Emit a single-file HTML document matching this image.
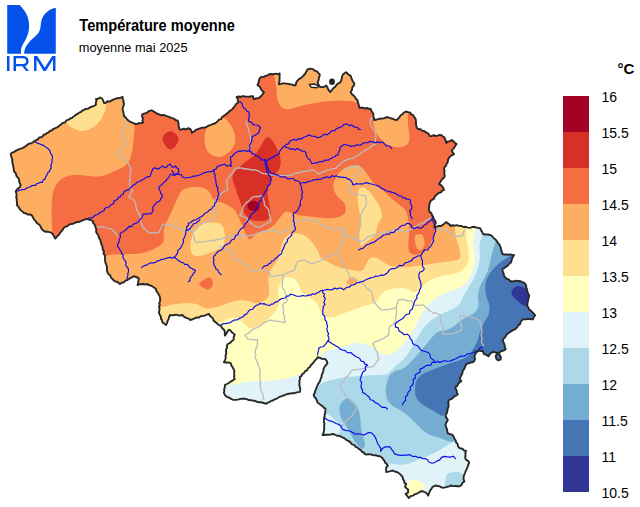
<!DOCTYPE html>
<html><head><meta charset="utf-8"><style>
html,body{margin:0;padding:0;background:#fff;width:640px;height:507px;overflow:hidden}
svg{display:block}
text{font-family:"Liberation Sans",sans-serif}
</style></head><body>
<svg width="640" height="507" viewBox="0 0 640 507">
<defs><clipPath id="bel"><polygon points="10.8,153.8 12.4,152.6 14.2,151.9 15.8,150.9 17.5,149.9 19.2,149.1 21.1,148.6 22.9,147.8 24.6,146.9 26.1,145.7 27.7,144.6 29.3,143.5 31.4,143.3 33,142.3 34.5,141 36.2,140.2 37.8,139.4 38.9,137.7 40.9,137.3 42.5,136.6 43.6,134.7 45.5,134.3 46.9,133.1 48.6,132.3 49.9,130.9 51.7,130.5 53,129.1 54.8,128.4 56.5,127.7 58.1,126.7 59.5,125.6 61,124.5 62.3,123.1 64.1,122.7 65.6,121.7 66.9,120.2 68.7,119.7 70.1,118.5 71.9,118 73.3,116.8 74.8,115.8 76.1,114.5 77.8,113.8 79.2,112.6 81,112 82.2,110.6 84,110 85.6,108.9 87.6,108.9 89.3,107.9 90.9,106.9 92.7,106.5 94.5,105.7 96,104.5 95.8,102.7 96.5,100.8 96,99 98.2,98.8 100,97.5 101.8,98.4 103,100 104,103 106,102.7 107.5,101.3 109.7,101.6 111.4,100.6 113.2,99.6 115,99 116.8,98.1 118.9,98.2 120.8,97.7 122.5,96.8 122.7,98.6 123.4,100.3 123.5,102.2 124,104 123.3,106.5 122.5,109 123.1,111.3 123.6,113.6 124,116 125.8,117.5 127.2,119.5 129,121 130.9,122.1 133.1,122.9 135,124 137,123.7 139.1,123.3 141.1,123 143.1,122.5 142.4,120.5 143,118.4 142.1,116.5 142.1,114.4 144,113.7 146,113.2 147.7,112.1 149.3,110.8 151.3,110.3 153,110.9 154.5,112.1 156.1,112.9 157.6,114 159.4,114.4 161.3,115.3 163.6,114.9 165.5,115.7 167.5,116.4 169.3,116.9 170.8,117.9 172.7,118.1 174.4,119 175.8,120.2 177.7,120.5 178.4,122.3 178.6,124.1 178.5,126.1 179.2,127.8 179.7,129.6 181.7,129.5 183.7,128.7 185.9,129.5 187.8,128.3 189.9,128.6 191.3,130.5 191.9,132.7 194.2,131.5 196,129.6 198.1,129.2 200,128.3 202,127.7 204.1,127.6 206,127.2 207.6,126.2 209.3,125.4 211.1,124.8 212.8,124 214.7,123.5 216.3,122.5 217.7,121.1 219,119.6 221.2,119.1 222.1,117.1 223.7,115.9 225.4,114.9 226.9,113.5 228.5,112.4 229.6,110.9 231.3,110.1 232.6,108.8 233.7,107.4 234.9,106 235.8,104.4 237.1,103.1 238.7,102.2 237.8,100.6 237.7,98.6 236.6,97.1 238.4,96.5 240.2,97 242,96.3 243.8,96.2 245.6,96.6 247.4,96.6 249.3,96.8 251,96.2 252.8,96.1 253.9,99.1 256.4,98.3 259,98.1 260.2,96.7 261.8,95.6 262.8,93.9 264,92.5 262.6,91.1 261.2,89.7 260.4,87.7 259.1,86.2 257.5,85 258.6,82.6 259,80 260,77.8 261.8,76.9 263.9,76.9 265.6,75.8 267.6,75.4 269.3,74.3 271.2,74 273.4,74.3 275.5,73.6 277.6,74.2 279.7,73.5 279.6,75.3 279.6,77.2 279.5,79 279.6,80.8 279.2,82.6 278.8,84.4 280.6,84.1 282.5,83.4 284.4,83.4 286.3,83.6 288.2,83.9 290,84.3 291.9,84.5 293.7,85.3 295.6,85.3 296.2,82.8 297.5,80.6 298.9,79.2 300.7,78.2 302.2,76.9 303.6,75.5 305,74 306.2,71.7 307.5,69.5 310.3,68.6 312.7,69.1 314.6,70.6 316.9,71.4 318.2,72.9 319.7,74.2 319.6,76.1 318.8,77.9 318.8,79.8 317.8,81.6 317.8,83.6 318.9,85.1 319.7,86.8 322,87.1 324.4,86.8 326.2,85.4 327.3,87.2 328.1,89.2 330,92 331.9,90.1 333.5,88 335.6,86.4 336.7,84.6 338.3,83.4 340.1,82.4 341.2,80.7 341.7,78.5 342.1,76.3 343.1,74.2 345.9,72.3 347.5,73.4 348.8,74.8 350.6,75.6 351.3,77.7 352,79.8 353.1,81.8 354.4,83.6 354,85.5 352.6,86.8 352.1,88.6 351.8,90.5 350.6,92 351.7,93.9 353.4,95.3 354.9,96.9 355.9,98.8 357.5,100.3 357.8,102.2 358.5,104 359,105.9 359.4,107.8 361.3,107.8 363.2,107.8 365,108.7 366.9,107.9 368.7,108.9 370.6,108.8 371.4,110.7 372.5,112.5 373.5,114.4 373.2,116.3 374.1,118.1 374,120 376,119.8 378,119.2 380,118.7 382,118.5 384.1,118.2 386,117.5 387,117 388.9,117.7 390.8,118.3 392.8,118.7 394.5,119.7 396.5,120.2 398,118.8 399.4,117.3 400.5,115.5 402.4,114.3 403.9,112.5 406,111.5 408,112.1 410,112.4 411,114.3 413.2,115.2 414.2,117.1 415.5,118.7 415.9,120.5 415.9,122.4 416,124.3 416.3,126.2 417,128 418.5,129.3 420.6,129.3 422.1,130.6 424,131 425.6,132.1 427.3,132.9 428.8,134.2 429.7,136 431.7,136.1 433.6,135.2 435.6,136 437.6,135.6 439.5,134.9 441.5,135.2 442.9,136.7 444.7,137.6 444.9,139.5 446.1,141.1 446.2,143 447.9,141.7 450,141.1 451.8,140 453.4,141.3 454.9,142.7 456.5,144 455.2,145.9 454,147.9 452.7,149.3 451.8,151 452.8,152.7 454,154.2 452.4,155.1 450.7,155.9 449.4,157.3 448.1,159.5 447.8,162 446.7,163.7 446,165.6 444.6,167.1 443.9,169 444.6,170.7 444.2,172.6 444.5,174.4 444.7,176.2 443.8,177.9 442.1,179.1 441.2,180.8 440.1,182.4 439,184 441.2,185.4 443,187.3 444,190 442.1,190.6 441,192.4 438.9,192.7 437.5,194 436,195.2 434.8,196.6 434.1,198.6 432.4,199.6 430.8,200.7 430,202.5 429.4,204.3 429.3,206.2 428.9,208.1 429,210 429.6,211.9 431.3,213.1 432,215 433.1,216.6 433.8,219.2 435.5,221.3 435.7,223.5 434.5,225.4 434.7,227.6 436.7,226.6 438.8,226 441,226 443,224.9 444.6,223.3 446.5,222.1 447.8,223.4 449.4,224.4 450.5,226 452.5,225.2 454.7,225.7 456.8,225.2 459.1,225.9 461.5,226 463.5,227 465.8,226.8 467.8,227.6 470,227.9 472,227.1 474.1,226.8 476.2,227.5 478.3,227.9 480.4,228.4 481,230.3 482.3,232 482.8,233.9 484.9,234.5 487.2,234.5 489.4,234.8 491.5,235.5 492.9,237.2 494.5,238.8 496.2,240.2 497.4,242.1 498.8,243.8 500,245.8 500.8,247.8 501.1,249.9 501.9,251.9 502.5,254 504.4,254.6 506.3,254.3 508.2,254.8 510.2,254.4 512.1,254.9 514,255 513,256.8 512,258.6 511.6,260.6 511,262.5 509.2,263.7 507.9,265.5 506.1,266.7 504.4,267.9 502.5,269 502.7,271.4 503.7,273.6 504,276 505.4,277.4 506.7,278.8 508.8,279.3 510,281 512,281.5 514,281.3 516,280.7 518,281.2 520,281 521.8,281.9 523.6,282.6 525.2,283.8 526.2,285.6 526.2,287.8 527.2,289.7 527.4,291.8 528.3,293.7 529.2,295.6 528.7,297.6 528.3,299.5 527.8,301.5 527.4,303.5 527.2,305.5 528.2,307.4 529.2,309.4 530.9,310.7 532.3,312.3 533.9,313.7 535.1,315.4 533.6,317.1 533.1,319.3 531.1,319.2 529.2,319 527.2,319 525.2,319.4 523.2,319.3 521.7,320.6 520.6,322.3 520,324.2 518.2,325.4 517.3,327.2 515.6,328.9 513.5,329.9 511.4,331.1 509.6,332.3 507.8,333.5 506.3,335 505.3,337.1 503.5,338.7 502.7,340.9 503.8,342.9 504.6,344.9 504.8,347.2 505.7,349.2 503.8,350.6 501.5,351 499.2,352.8 497,354 495.6,356.3 496.5,359 498,360.4 500.5,359.5 501,357.5 499.8,355.1 498,352.8 496,352.7 494.1,351.9 492.1,352.2 490.6,353.3 489.4,354.7 488.5,356.3 486.3,354.9 483.8,353.9 483.2,352.1 482.6,350.4 480.9,351 479,350.6 477.4,351.8 475.5,351.6 475.8,353.5 474.7,355.3 474.6,357.2 475,359.2 474.3,361 472.8,362.2 470.9,362.4 469.4,363.2 467.5,363.5 466,364.6 465.3,366.3 464.7,368 463.8,369.5 462.7,371 462.5,372.9 461.4,375.3 460.1,377.6 460.2,379.6 461.3,381.2 459.5,382.3 458.1,383.9 457.2,386 455.4,387.1 455.7,389 456.7,390.6 456.8,392.5 457.8,394.2 456.2,395.6 454.2,396.4 452.8,398.1 451,399.1 449,400 448.3,401.9 448.5,404 448.6,406.1 447.9,408 447.5,410 447,412.7 445.5,415 445.8,416.9 446.9,418.4 447.8,420 446.5,422.3 445.5,424.7 446,426.9 446.9,429 447.3,431.2 447.8,433.4 450.2,434.1 452.6,435 453.6,436.8 454.6,438.7 455.7,440.5 456.1,442.5 457.6,443.9 457.9,445.9 458.9,447.6 460.6,448.5 462.6,448.8 464,450.5 466,450.8 465.4,453.1 465.5,455.5 465.2,457.9 466.1,459.8 468.1,460.8 469.1,462.6 468.4,464.7 467.6,466.8 466.8,468.9 465.8,470.8 465.1,472.8 464.2,474.7 463.6,476.8 463.6,479.2 464.4,481.5 462.6,482.8 461.5,484.9 459.7,486.2 457.5,486.3 455.3,486 453.1,486.1 451,485.5 449.1,486.3 447.1,486.9 445.1,487.4 443.1,487.8 441.3,487.4 439.7,486.3 437.8,486.1 436,485.5 434.2,486.1 432.5,486.9 431.5,488.9 430,490.6 429.1,493.1 428.1,495.6 427.1,493.9 425.6,492.5 423.5,491.5 421.2,491.2 418.8,492.5 417,493.7 414.8,494.3 413.1,495.6 410.6,496.2 408.8,498.1 407.5,496.2 405.6,493.8 408.1,492.5 408.1,489.4 406.5,488.2 405,486.9 406.2,483.8 404.4,483.1 404.2,480.9 403,479 402.5,476.9 400.8,474.9 398.8,473.1 396.8,472 394.6,471.5 392.6,470.5 390.5,471.1 388.4,471.6 386.3,472 386.1,469.6 386.3,467.3 387.9,465.7 386.8,464.1 385.2,462.8 384.5,460.9 383.2,459.4 381.9,457.5 380,456.3 377.5,456 375.8,455.2 373.9,455.4 372.2,454.8 370.4,454.4 368.6,454.1 366.7,454.6 365,454 363.6,452.5 361.7,451.7 360.8,449.8 358.8,449 357.5,447.5 355.7,446.9 354.7,445.2 352.9,444.7 351.3,443.7 350.3,442.1 348.8,441.1 347.1,440.3 345.6,439.4 344.3,438.1 342.5,437.5 340.6,436.4 338.6,435.9 336.5,435.5 334.6,434.5 332.5,434 330.5,434.6 328.5,434.7 326.5,434.8 324.5,435 322.5,435 323.7,432.6 324,430 324.3,428 324,426 324.5,424 323.8,422 324,420 324.1,418.1 324.6,416.2 324.7,414.3 325.3,412.4 325.3,410.5 325.5,408.6 323.7,407.7 322.5,406 320.7,405.1 319.3,403.7 317.6,402.7 316.9,400.6 316,398.5 314.4,396.9 313.6,394.8 314.8,393 315.2,390.9 316.1,388.9 316.8,387 317.6,385 318.7,383.1 320,381.3 320.5,379.1 321.5,377.1 321.7,375.1 322.5,373.1 323.3,371.3 323.5,369.2 324.4,367 325.9,365.1 327.4,363.3 326.8,361.1 325.5,359.3 323.5,358.9 321.5,358.7 319.6,357.7 317.6,357.3 316.7,358.9 315.3,360.1 314.2,361.5 313.1,363 311.8,364.2 310.7,365.6 309.7,367.2 307.9,368.3 307.1,370.3 305.1,371.1 304.1,372.9 302.4,374 301.5,375.9 299.8,377.1 300.1,378.9 299.3,380.8 299.6,382.6 299.3,384.5 299.7,386.3 300.1,388.2 300.3,390 299.8,391.9 297.8,392.1 295.9,392.6 294,393.3 291.9,393.2 290,393.7 288,393.8 286.2,394.4 284.6,395.2 282.8,395.6 281.1,396.3 279.3,396.9 277.8,398 276.1,398.8 274.4,399.4 272.9,400.5 271,400.9 269.6,402.1 267.8,402.6 266.3,403.7 264.3,403.3 262.4,402.5 260.3,402.2 258.2,402.2 256.3,401.5 254.4,400.7 252.4,400.5 250.4,400.1 248.4,400 246.6,399.1 244.6,398.8 242.6,398.6 240.6,398.9 238.7,399.4 236.7,399.8 234.7,399.9 232.8,399.8 230.8,398.6 228.9,397.5 226.8,396.8 225,395.1 223.9,392.8 224.3,390.9 224.2,388.9 224.9,387 224.9,385 226.9,384 228.8,383 230.7,381.6 232.8,380.4 234.7,379 234.1,377.1 234.3,375.1 234.2,373.1 234.4,371.1 233.7,369.2 232.6,367.3 231.4,365.5 230.8,363.3 228.6,362.4 226.2,362.5 223.9,362.3 225.2,359.9 225.8,357.3 225.5,355.3 226.3,353.4 226,351.4 226.1,349.4 227.2,347.5 226.8,345.5 227.9,344 229.6,343.2 231,342 232.3,340.8 233.7,339.6 233.7,337 234.7,334.7 233.3,333.3 231.7,332.3 230.6,330.5 228.8,329.7 227.4,331.6 226.3,333.7 224.9,335.6 224.8,333.6 224.8,331.6 223.9,329.7 222.1,328 220.9,325.8 218.6,324.9 216.8,323.3 215,321.8 213.5,320.5 213,318.4 211.5,317.1 209.9,315.8 209,314 206.8,314.6 204.7,315.6 202.5,316 200.6,316.1 199.1,317.6 197,317.4 195.3,318 193.6,318.8 191.8,319.5 190,320 188.8,318.6 187,318.1 185.2,317.4 183.7,316.4 182.5,315 180.4,315.5 178.3,315.4 176.2,314.7 174.2,315 172.1,315.4 170,315 169.1,317 168.6,319.1 167.6,321 167,323.1 166,325 164.4,323.6 162.5,322.5 162.1,320.4 160.9,318.6 160.9,316.3 159.6,314.6 159,312.5 159.3,310.6 159.6,308.8 158.9,306.8 159.8,305 159.2,303.1 160.1,301.3 160.2,299.4 160,297.5 159.4,295.7 158.4,294.1 157.5,292.4 156.3,290.9 156,289 154.4,287.8 152.8,286.7 151.1,285.6 149,285.3 147.5,284 145.5,284.7 143.5,284 141.5,284.2 139.5,284.3 137.5,285 138.2,283.1 138.3,281 139,279 137.6,277.5 135.6,277 134,276 132.5,277.2 130.7,277.9 129,278.8 127.5,280 125.4,280.6 123.9,282.3 121.7,282.7 120,284 118.6,282.9 117.1,281.9 115.3,281.3 113.7,280.4 112.5,279 110.9,277.6 110.4,275.5 108.6,274.2 107.5,272.5 107,270.6 106.8,268.8 107,266.8 106.3,265 105.6,263.2 105.2,261.3 105,259.4 105,257.5 104.9,255.4 103.5,253.6 104,251.4 102.8,249.6 102.5,247.5 102.2,245.6 101.2,243.9 100.8,242 100.4,240.1 99.3,238.4 98.6,236.6 98.2,234.8 96.8,233.3 96.1,231.6 96.3,229.5 95.7,227.8 95.2,226 94.4,224.3 93.1,222.8 92.7,221 90.8,220 88.8,219.5 86.8,218.9 84.8,219.5 82.9,220.4 81,221.1 79.1,222 76.9,222 75,222.8 73,223.7 70.8,224 68.9,224.9 67.2,226.4 65,226.8 63.6,228.2 62.6,229.9 61.4,231.4 60,232.9 59.2,234.7 57.6,235.8 56.5,237.3 55.2,238.6 54.1,236.5 53,234.4 51.3,232.7 49.3,232.2 47.4,231.6 45.3,231.7 43.4,230.7 41.7,229 40.7,226.8 39.4,224.8 37.8,223.8 36.5,222.5 35.5,220.9 33.8,219.2 32.8,217 31.6,215 29.6,214.5 27.5,214.5 25.8,213.2 23.7,213 22.5,211.5 21,210.4 19.7,209 18.5,206.8 16.8,205 17.1,203 16.7,201.1 16.8,199.1 16.2,197.2 16.6,195.2 16.3,193.2 15.8,191.3 16.8,189.7 18.2,188.3 19.8,187.2 20.7,185.4 19.8,183.2 19.1,180.9 18.7,178.5 17.4,177.1 16.3,175.6 16,173.6 14.7,172.2 13.8,170.6 13.8,168.7 13.2,166.9 13.2,164.9 12.4,163.1 12.3,161.2 12.2,159.3 11.6,157.5 11,155.7 10.8,153.8"/></clipPath></defs>
<g clip-path="url(#bel)">
<rect x="0" y="0" width="640" height="507" fill="#FDAE61"/>
<path fill="#F46D43" d="M132.5,107.0Q135,124 134.5,129.5Q134,135 133.2,143.8Q132.5,152.5 130.0,158.8Q127.5,165 122.5,167.5Q117.5,170 108.8,173.8Q100,177.5 93.4,176.5Q86.8,175.5 78.9,175.0Q71,174.5 65.1,176.9Q59.2,179.4 55.8,185.4Q52.3,191.3 51.8,201.2Q51.3,211 51.8,221.8Q52.3,232.7 53.1,241.3Q54,250 77.0,256.0Q100,262 102.5,258.5Q105,255 112.5,254.5Q120,254 130.0,254.0Q140,254 146.2,252.0Q152.5,250 158.8,246.2Q165,242.5 163.8,236.2Q162.5,230 167.5,220.0Q172.5,210 176.2,201.0Q180,192 182.5,190.0Q185,188 192.5,187.0Q200,186 205.0,188.5Q210,191 211.2,195.5Q212.5,200 217.5,201.2Q222.5,202.5 227.5,205.0Q232.5,207.5 234.8,210.4Q237,213.4 238.7,217.2Q240.3,221 242.5,226.0Q244.7,231 245.8,234.5Q247,238 249.0,239.0Q251,240 252.0,238.0Q253,236 256.5,234.2Q260,232.5 266.2,230.0Q272.5,227.5 276.2,222.5Q280,217.5 283.0,213.8Q286,210 290.5,212.5Q295,215 305.0,216.0Q315,217 323.8,218.0Q332.5,219 338.2,217.0Q344,215 345.0,213.0Q346,211 345.5,206.8Q345,202.5 340.5,199.2Q336,196 334.2,191.0Q332.5,186 334.2,181.0Q336,176 339.2,172.4Q342.5,168.75 348.1,166.6Q353.75,164.4 357.4,165.2Q361,166 364.2,170.0Q367.5,174 370.0,178.2Q372.5,182.5 378.2,186.8Q384,191 387.0,194.2Q390,197.5 395.0,201.2Q400,205 403.8,208.5Q407.5,212 408.5,221.4Q409.5,230.8 408.7,238.7Q407.9,246.5 408.7,250.4Q409.5,254.4 415.0,254.8Q420.5,255.2 424.1,252.1Q427.6,248.9 430.8,243.0Q433.9,237.1 434.9,231.6Q436,226 448.0,213.0Q460,200 465.0,165.0Q470,130 450.0,110.0Q430,90 365.0,70.0Q300,50 217.5,65.0Q135,80 132.5,85.0Q130,90 132.5,107.0Z"/>
<path fill="#F46D43" d="M204.1,279.6Q210,275.7 211.9,279.2Q213.9,282.8 212.4,286.0Q210.8,289.1 208.8,289.5Q206.8,289.9 203.7,287.9Q200.5,286 199.3,284.8Q198.1,283.6 204.1,279.6Z"/>
<path fill="#FDAE61" d="M209.4,122.8Q212,119 217.1,117.5Q222.2,116 225.8,119.0Q229.3,122 231.7,126.7Q234,131.3 234.9,134.9Q235.8,138.4 234.9,142.6Q234,146.7 231.7,149.6Q229.3,152.6 225.2,154.9Q221,157.3 216.9,156.8Q212.75,156.2 209.8,153.8Q206.8,151.4 205.7,147.2Q204.5,143.1 204.5,139.0Q204.5,134.85 205.7,130.7Q206.8,126.6 209.4,122.8Z"/>
<path fill="#FDAE61" d="M274.0,68.5Q274,76.9 275.4,82.5Q276.9,88 276.9,94.6Q276.9,101.25 280.6,105.9Q284.4,110.6 290.9,108.8Q297.5,106.9 309.7,104.1Q321.9,101.25 335.9,100.8Q350,100.3 353.8,101.7Q357.5,103.1 361.2,101.5Q365,100 362.5,77.5Q360,55 317.0,57.5Q274,60 274.0,68.5Z"/>
<path fill="#FDAE61" d="M372.2,112.5Q372.5,120 373.8,126.2Q375,132.5 379.0,137.0Q383,141.5 386.2,143.9Q389.5,146.3 395.0,147.1Q400.5,147.9 404.4,146.3Q408.4,144.7 409.2,140.8Q410,136.8 408.8,130.5Q407.6,124.2 408.0,119.5Q408.4,114.7 406.7,107.3Q405,100 388.5,100.0Q372,100 372.0,102.5Q372,105 372.2,112.5Z"/>
<path fill="#FDAE61" d="M416.2,234.8Q418,234 420.2,233.9Q422.5,233.8 423.5,236.9Q424.5,240 424.6,243.0Q424.6,246 422.8,248.5Q421,251 419.2,250.2Q417.5,249.5 416.2,246.8Q415,244 414.8,239.8Q414.5,235.5 416.2,234.8Z"/>
<path fill="#D73027" d="M268.7,137.6Q271.4,138.7 274.6,144.1Q277.9,149.5 279.5,154.9Q281.2,160.4 280.6,164.7Q280.1,169 276.9,172.3Q273.6,175.6 271.4,178.8Q269.2,182 268.1,187.4Q267.1,192.9 268.1,198.3Q269.2,203.75 270.3,210.3Q271.4,216.8 268.1,218.9Q264.9,221.1 259.4,221.1Q254,221.1 249.7,218.9Q245.4,216.8 243.2,210.3Q241,203.75 238.3,196.2Q235.6,188.6 233.4,182.6Q231.3,176.6 234.0,172.8Q236.7,169 242.1,164.7Q247.5,160.4 251.8,157.2Q256.2,153.9 259.4,148.4Q262.7,143 264.4,139.8Q266,136.5 268.7,137.6Z"/>
<path fill="#D73027" d="M173.1,132.0Q175.7,133.7 177.2,135.8Q178.8,137.9 178.6,139.6Q178.4,141.3 177.1,143.7Q175.7,146.1 173.3,148.3Q170.9,150.6 168.4,148.7Q166,146.8 164.7,144.4Q163.3,142 162.6,140.3Q161.9,138.6 163.3,136.1Q164.7,133.7 167.6,132.0Q170.5,130.3 173.1,132.0Z"/>
<path fill="#A50026" d="M249.7,201.9Q252.4,200.3 255.1,200.9Q257.8,201.4 258.9,204.2Q260,206.9 258.9,209.1Q257.8,211.3 255.1,211.3Q252.4,211.3 250.2,210.2Q248,209 247.4,206.3Q246.9,203.6 249.7,201.9Z"/>
<path fill="#FEE090" d="M63.0,116.8Q66,123.5 70.5,126.8Q75,130 79.4,130.7Q83.75,131.3 88.8,129.4Q93.75,127.5 97.5,123.8Q101.25,120 103.1,115.6Q105,111.25 106.0,106.9Q106.9,102.5 107.0,96.2Q107,90 83.5,100.0Q60,110 63.0,116.8Z"/>
<path fill="#FEE090" d="M199.8,225.2Q203.7,222.9 210.0,222.5Q216.3,222.1 219.4,223.3Q222.6,224.5 223.8,228.4Q225,232.35 224.6,239.4Q224.2,246.5 221.0,248.1Q217.85,249.7 213.1,251.6Q208.4,253.6 202.9,255.2Q197.35,256.8 194.2,255.6Q191,254.4 190.6,248.9Q190.25,243.4 191.4,238.7Q192.6,234 194.2,230.8Q195.8,227.6 199.8,225.2Z"/>
<path fill="#FEE090" d="M365.8,188.5Q369,191 372.5,195.5Q376,200 378.5,204.5Q381,209 381.8,213.5Q382.5,218 379.6,221.5Q376.8,225 376.4,229.8Q376,234.5 374.0,236.1Q372,237.6 368.9,240.0Q365.7,242.4 363.4,244.7Q361,247 360.2,243.9Q359.4,240.8 359.4,237.7Q359.4,234.5 360.2,226.2Q361,218 359.2,210.2Q357.5,202.5 357.5,196.8Q357.5,191 360.0,188.5Q362.5,186 365.8,188.5Z"/>
<path fill="#FEE090" d="M150.0,410.0Q150,310 156.2,308.8Q162.5,307.5 167.5,305.8Q172.5,304 183.8,303.2Q195,302.5 200.0,305.8Q205,309 208.8,308.6Q212.5,308.1 218.1,306.6Q223.75,305 230.0,302.5Q236.25,300 242.5,300.3Q248.75,300.6 251.9,302.2Q255,303.75 258.1,303.1Q261.25,302.5 265.0,300.0Q268.75,297.5 269.1,293.8Q269.4,290 268.6,283.5Q267.8,277 269.9,272.0Q272,267 275.0,264.0Q278,261 279.5,254.2Q281,247.5 283.0,241.8Q285,236 290.0,234.2Q295,232.5 300.0,233.8Q305,235 308.8,238.8Q312.5,242.5 315.8,247.5Q319,252.5 319.5,255.3Q320,258.1 324.8,260.5Q329.5,262.9 334.2,265.2Q338.9,267.6 343.6,268.4Q348.4,269.2 355.5,270.8Q362.6,272.3 364.1,268.4Q365.7,264.4 368.1,260.4Q370.5,256.5 374.4,257.3Q378.4,258.1 382.3,261.2Q386.2,264.4 390.9,266.0Q395.7,267.6 401.9,267.3Q408,267 414.2,266.2Q420.5,265.5 429.9,263.9Q439.4,262.3 449.7,261.5Q460,260.7 460.4,256.8Q460.7,252.9 458.8,247.4Q456.8,241.8 455.6,234.7Q454.4,227.6 454.2,213.8Q454,200 507.0,200.0Q560,200 560.0,355.0Q560,510 355.0,510.0Q150,510 150.0,410.0Z"/>
<path fill="#FDAE61" d="M346.8,281.0Q348.4,278.6 351.5,277.1Q354.7,275.5 356.3,279.4Q357.9,283.4 354.7,284.5Q351.5,285.7 348.4,284.5Q345.2,283.4 346.8,281.0Z"/>
<path fill="#FFFFBF" d="M200.0,417.5Q200,325 210.6,323.8Q221.25,322.5 225.6,320.0Q230,317.5 234.4,318.1Q238.75,318.75 242.5,321.9Q246.25,325 247.5,326.9Q248.75,328.75 253.1,328.1Q257.5,327.5 262.5,323.8Q267.5,320 271.2,316.2Q275,312.5 277.5,307.5Q280,302.5 278.8,296.2Q277.5,290 278.8,286.9Q280,283.75 281.9,280.3Q283.75,276.9 288.4,277.4Q293.1,277.8 295.9,280.1Q298.75,282.5 299.7,287.2Q300.6,291.9 305.3,294.7Q310,297.5 312.8,299.4Q315.6,301.25 317.5,305.0Q319.4,308.75 321.3,312.5Q323.2,316.25 327.9,317.2Q332.6,318.1 336.3,316.2Q340,314.4 350.0,310.9Q360,307.4 364.8,305.8Q369.5,304.2 372.4,304.0Q375.2,303.9 379.1,297.6Q383.1,291.25 387.9,289.7Q392.6,288.1 400.5,288.1Q408.3,288.1 411.2,291.6Q414.2,295 420.5,288.1Q426.8,281.25 432.4,278.9Q437.9,276.5 448.1,274.9Q458.4,273.4 463.1,269.4Q467.8,265.5 468.6,259.9Q469.4,254.4 467.8,247.3Q466.2,240.2 466.2,234.7Q466.2,229.2 466.1,214.6Q466,200 513.0,200.0Q560,200 560.0,355.0Q560,510 380.0,510.0Q200,510 200.0,417.5Z"/>
<path fill="#E0F3F8" d="M200.0,448.0Q200,386 213.8,386.0Q227.5,386 237.5,383.5Q247.5,381 262.5,381.0Q277.5,381 288.2,378.0Q299,375 302.0,373.5Q305,372 309.5,369.0Q314,366 317.0,362.0Q320,358 321.8,354.7Q323.5,351.4 329.2,350.4Q335,349.4 342.5,346.7Q350,344 355.0,343.0Q360,342 366.3,344.4Q372.6,346.8 378.1,351.5Q383.7,356.25 389.2,354.7Q394.7,353.1 401.0,346.8Q407.3,340.5 411.2,333.4Q415.2,326.3 420.7,316.1Q426.2,305.8 432.8,300.4Q439.4,295 450.4,291.3Q461.5,287.6 465.4,283.6Q469.4,279.7 472.5,271.8Q475.7,263.9 474.9,257.6Q474.1,251.3 473.4,245.8Q472.6,240.2 474.1,235.5Q475.7,230.8 476.5,229.6Q477.3,228.4 477.1,214.2Q477,200 518.5,200.0Q560,200 560.0,355.0Q560,510 380.0,510.0Q200,510 200.0,448.0Z"/>
<path fill="#ABD9E9" d="M312.5,395.0Q315,390 318.5,386.2Q322,382.5 331.0,380.0Q340,377.5 356.2,376.2Q372.5,375 380.0,375.0Q387.5,375 389.5,372.5Q391.5,370 399.4,363.1Q407.3,356.25 411.2,348.4Q415.2,340.5 421.5,331.0Q427.8,321.5 436.5,316.8Q445.2,312.1 452.6,309.0Q460,305.8 461.6,300.4Q463.1,295 467.1,289.7Q471,284.4 474.1,278.1Q477.3,271.8 478.9,264.7Q480.4,257.6 479.6,251.3Q478.9,245 480.4,241.1Q482,237.1 482.4,235.5Q482.8,233.9 483.9,216.9Q485,200 522.5,200.0Q560,200 560.0,355.0Q560,510 435.0,510.0Q310,510 310.0,455.0Q310,400 312.5,395.0Z"/>
<path fill="#E0F3F8" d="M377.5,466.2Q385,462.5 393.5,464.1Q402,465.7 409.1,463.4Q416.3,461 421.8,458.6Q427.3,456.3 435.1,452.4Q443,448.4 448.6,444.4Q454.1,440.5 462.1,440.2Q470,440 475.0,475.0Q480,510 425.0,510.0Q370,510 370.0,490.0Q370,470 377.5,466.2Z"/>
<path fill="#E0F3F8" d="M321.5,412.5Q327,413 330.5,416.0Q334,419 337.5,422.5Q341,426 340.5,430.0Q340,434 335.0,435.5Q330,437 323.0,437.0Q316,437 316.0,424.5Q316,412 321.5,412.5Z"/>
<path fill="#FFFFBF" d="M409.1,481.2Q411.25,479.4 415.6,480.0Q420,480.6 422.8,483.1Q425.6,485.6 424.4,487.8Q423.1,490 420.9,490.6Q418.75,491.25 416.9,495.6Q415,500 407.5,500.0Q400,500 400.0,492.5Q400,485 403.4,484.1Q406.9,483.1 409.1,481.2Z"/>
<path fill="#ABD9E9" d="M445.4,479.9Q446.2,473.6 449.4,472.8Q452.6,472 457.3,472.0Q462,472 462.8,476.0Q463.6,480 466.8,485.0Q470,490 457.0,491.0Q444,492 444.4,489.1Q444.7,486.2 445.4,479.9Z"/>
<path fill="#74ADD1" d="M391.2,373.8Q395,370 398.8,370.0Q402.6,370 408.9,363.9Q415.2,357.8 422.3,349.1Q429.4,340.5 433.4,335.8Q437.3,331 442.8,330.6Q448.3,330.2 454.1,325.9Q460,321.5 462.5,319.5Q465,317.5 470.5,315.0Q476,312.5 477.5,308.8Q479,305 478.1,300.0Q477.3,295 478.9,289.7Q480.4,284.4 484.4,278.1Q488.3,271.8 489.9,263.1Q491.5,254.4 493.1,249.7Q494.6,245 495.4,242.6Q496.2,240.2 496.6,235.1Q497,230 528.5,230.0Q560,230 560.0,335.0Q560,440 517.5,440.0Q475,440 467.5,440.0Q460,440 455.0,441.2Q450,442.5 445.0,440.0Q440,437.5 433.8,436.2Q427.5,435 422.5,430.0Q417.5,425 411.2,418.8Q405,412.5 397.5,408.8Q390,405 387.5,400.0Q385,395 386.2,386.2Q387.5,377.5 391.2,373.8Z"/>
<path fill="#74ADD1" d="M342.5,401.2Q346,397.5 349.2,398.8Q352.5,400 356.2,405.0Q360,410 360.5,421.2Q361,432.5 363.5,438.8Q366,445 364.2,447.5Q362.5,450 358.8,446.2Q355,442.5 351.2,435.0Q347.5,427.5 343.8,422.5Q340,417.5 339.5,411.2Q339,405 342.5,401.2Z"/>
<path fill="#4575B4" d="M495.8,266.2Q491.5,270.2 488.4,275.7Q485.2,281.25 485.2,288.1Q485.2,295 487.6,300.0Q490,305 489.5,310.0Q489,315 486.5,318.8Q484,322.5 481.5,328.2Q479,334 478.2,338.2Q477.5,342.5 472.5,350.0Q467.5,357.5 463.8,358.8Q460,360 454.0,362.0Q448,364 441.0,366.5Q434,369 427.0,372.0Q420,375 417.5,378.8Q415,382.5 415.0,390.0Q415,397.5 418.8,401.2Q422.5,405 430.0,409.0Q437.5,413 440.0,415.0Q442.5,417 445.0,413.5Q447.5,410 458.8,415.0Q470,420 515.0,390.0Q560,360 560.0,305.0Q560,250 540.0,250.0Q520,250 510.0,256.1Q500,262.3 495.8,266.2Z"/>
<path fill="#313695" d="M513.0,289.0Q516,285 520.4,286.5Q524.8,288 532.4,290.0Q540,292 540.0,299.5Q540,307 532.4,307.0Q524.8,307 519.9,303.0Q515,299 512.5,296.0Q510,293 513.0,289.0Z"/>
<g fill="none" stroke="#bcbcbc" stroke-width="1.3" stroke-linejoin="round">
<polyline points="123.8,116.2 124.5,118.4 124.4,120.6 124.4,122.9 125,125 124.1,127.4 123.5,129.9 123.2,132.5 122.5,135 123.4,137.7 125,140 126.2,142.5 125.2,144.7 123.4,146.4 122.3,148.6 120,149.9 118.5,151.8 117.5,154 119.5,155.3 121.4,156.7 122.9,158.6 125.2,159.5 126.9,161.2 128.5,163.6 129.7,166.1 130.6,168.8 130.7,171.2 130.2,173.6 129.7,175.9 130.4,178.4 129.4,180.8 129.8,183.2 129.7,185.6 130.7,188.6 132.5,191.2 130.9,192.9 130.3,195.2 128.8,196.9 130.5,198.3 132.8,199 134.4,200.6 135.6,202.9 135.8,205.5 136.2,208 137.2,210.7 138.7,213.1 140,215.6 140.9,217.8 140.6,220.2 141,222.5 142.3,224.7 142.5,227 144.5,228.8 146.4,230.8 148.5,232.5 150.8,233.1 153.3,232.3 155.6,232.9 158,233 159.7,231 160.6,228.6 162,226.4 163,224 165.1,224.7 167.4,224.8 169.6,225 171.8,225.7 174,226 176.1,226.9 178.3,227.6 180.2,229 182.5,229.5 184.8,229.6 187.1,230.1 189.4,230.7 191.7,231.1 194,231 196,229.8 197.4,228 198.8,226 200.9,225 202.3,223.1 204.8,222.6 207.1,221.5 209.5,220.6 211.7,219.4 214.1,218.4 214.7,215.9 215.5,213.5 216,211 215.4,208.8 215.8,206.6 215.8,204.4 214.8,202.2 215,200 217.2,198.2 219.2,196.2 221,194 222.9,192.3 225.1,190.9 227.5,190 227.5,187.3 226.9,184.7 226.8,182.1 226.9,179.4 228.6,177.6 230.2,175.7 231.8,173.9 233.2,171.9 234.5,169.9 236.2,168.1 239.2,167.8 242.1,168.2 245,169 247.5,168.9 250,169.5 252.5,170 255,170 257.5,170.6 259.7,171.8 261.9,173.3 264.4,173.8 266.6,173.9 268.7,174.6 270.9,174.8 273.1,175.2 275.3,175.3 277.5,175.6 280,175.7 282.5,175.8 285,175.2 287.5,175.6 289.8,175.4 292.1,174.9 294.1,173.4 296.4,173 298.8,172.8 301.2,172 303.7,171.4 306.2,171 308.8,171.1 311.2,170 313.8,170 316,171.5 317.5,173.8 319.9,173.5 322,172.1 324.3,171.5 326.5,170.7 328.8,170 331.2,169.2 333.7,168.7 336.2,168.1 337.9,166 340.1,164.4 341.9,162.5 344,161.3 346.1,160.2 348.3,159.4 350.6,158.7 353,158.3 355,156.9 356.9,155.8 359.1,155 360.6,153.3 362.3,152 364.5,151.2 366.1,149.5 368.4,149.2 370,147.5 371.8,146.1 373.6,144.8 375.6,143.8 375.3,141.4 375.4,139.1 376.1,136.7 375.6,134.4 375.2,132 373.8,130 372.5,128 371.3,125.9 370.5,123.6 370,121.2 371,118.5 372.5,116"/>
<polyline points="96.9,226.9 99.3,227 101.6,226.6 104,227 106.5,228.1 109.2,228.7 111.9,228.8 113.3,230.6 114.5,232.6 116.4,234.2 117.5,236.25"/>
<polyline points="245.6,121.2 246.8,123.4 247,125.8 248.3,127.9 248.4,130.3 249.4,132.5 249.7,134.9 250.5,137.2 250.6,139.7 251.2,142 250.4,144.6 250.3,147.5 249,150"/>
<polyline points="343.8,170 346.5,169.3 348.7,167.5 351.2,166.2 353.8,166.5 356.2,166.5 358.8,166.2 360.3,168 361.7,169.8 362.5,172 359.9,173.1 357.7,174.8 355,175.6 354.2,178 352.7,180.1 351.8,182.5 351.2,185 350.4,187.1 349.2,189 347.5,190.6 350.2,191.6 352.3,193.5 355,194.4 357.3,194.2 359.6,194.8 361.8,195.1 364.1,195.5 366.2,196.3 366.2,199.2 366.6,202.1 366.2,205 365.2,207.1 363.7,208.9 362.6,210.9 361.8,213.1 360.6,215 360.3,217.2 360.5,219.5 360.2,221.8 360.9,224 360.6,226.2 359.8,228.5 358.6,230.6 357.3,232.6 356.7,235 356,237.2 355,239.4"/>
<polyline points="239.2,215.6 240.8,213.7 241.8,211.4 242.7,209.2 243.3,206.7 244.7,204.7 246.2,202.9 248.2,201.6 249.9,200 251.3,198.1 253.6,196.9 256.1,196.4 258.8,196.5 261.1,195.4 263.3,199.2 264.3,201.9 264.4,204.7 265.7,206.6 267.5,208.2 268.8,210.2 269.1,212.4 269.3,214.6 270,216.8 270.7,218.9 271,221.1 269.1,222.4 266.9,223.2 264.9,224.3 263,225.6 260.9,226.6 258.9,227.7 257,226.6 254.8,225.8 252.8,224.7 251.1,223.2 249.1,222.2 247.6,220.2 246.9,217.8 244.4,217 241.9,216 239.2,215.6"/>
<polyline points="193,232.5 193.1,235 194.3,237.2 194.4,239.6 195.3,241.9 197.7,242.4 200,241.7 202.3,242.2 204.7,241.9 207,241.3 209.3,240.7 211.7,240.5 214.1,240.6 216.3,239.5 218.8,239.5 221.1,239.1 223.4,238.2 225.7,237.4 228.1,237.2 230.5,236.8 232.8,236.4 235.2,236.1 237.7,236.3 240,235.5 242.5,236 245,235.2 247.5,236.2 250,235.6 252.3,235 254.7,234.6 256.9,233.7 259,232.7 261.2,231.9 263.5,231.2 265.8,231.6 268.1,231.4 270.3,230.5 272.5,230 275.2,230.5 277.4,232.2 280,232.8 282.6,231.8 285.2,230.7 287.5,229 289.7,227.8 291.6,226.2 293.3,224.3 295,222.5 297.2,221.6 299.5,221 301.8,220.3 304.1,219.8 306.2,218.8 308.6,219.4 310.8,220.1 313.3,220.2 315.6,220.6 317.9,222.1 320,223.9 322.5,225.1 325,226.2 327.2,227.7 329.6,228.3 332.2,228.6 334.4,230 336.9,229.3 339.3,228.5 341.9,228.1 343.4,230.5 344.8,232.9 345.6,235.6 348.1,236.1 350.3,237.5 352.5,238.8 355,239.4 357.4,240.4 359.9,241.2 362.5,241.2 364.9,239.7 366.8,237.4 369.5,236.2 371.6,235.3 373.8,234.5 376.2,234.8 378.2,233.5 380.5,233.1 382.9,232.8 385.2,232 387.6,231.6 390.1,231.4 392.4,230.7 394.7,230 397.3,229.8 399.7,230.8 402.3,230.7 404.7,231.8 407.3,231.5 409.1,230.1 411.1,228.9 413.5,228.4 415.2,226.8 417.2,225.6 419,224.1 421.5,223.7 423.6,222.7 425.3,221.1 427.2,219.7 429.4,218.9 432.6,217.3"/>
<polyline points="435.7,228.4 437.9,229 440.1,229.5 442.4,228.8 444.5,230.2 446.8,230 448.5,231.9 451,232.7 452.4,235 454.6,236.2 457.1,236.5 459.5,235.7 462,236 463.5,233.9 463.8,231.3 465,229"/>
<polyline points="218.8,246.6 221.2,246.9 223.4,247.8 225.6,248.9 228.1,248.9 229.3,250.9 230.9,252.6 232.5,254.4 234,256.2 235.1,258.3 236.8,260 238.9,260.9 241.2,261.5 242.9,263.1 244.8,264.3 246.9,265.3 248.1,267.9 250.3,269.8 251.6,272.3 253.9,271.4 256.3,270.5 258.9,270.2 261.2,269.4 263.6,270.5 266.2,270.9 268.8,271.2 270.1,273.9 270.6,276.9 272.8,276.4 274.9,275.8 277.1,275.5 279.4,275.6 281.5,274.9 283.8,275 285.9,273.6 288.1,272.5 290.5,271.6 292.9,270.9 295,269.4 295.3,266.9 296.4,264.5 296.9,262 299.4,261.2 301.8,260.4 304.4,260 307,261 309.3,262.8 311.9,263.8 314.4,263.2 316.7,262.1 319.1,261.4 321.2,260 323.6,259.1 325.6,257.5 327.9,256.4 330.3,255.6 332.5,254.4 335.3,253.6 338.1,252.5 339.1,250.1 339.8,247.6 340,245 341.6,242.7 343,240.3 343.8,237.5 343.3,234.9 342.7,232.4 341.9,230"/>
<polyline points="338.1,252.5 339.5,254.7 339.6,257.4 340.5,259.8 341.9,262 343.4,264.2 344.9,266.5 346.4,268.7 347.5,271.2 348.9,274 349.4,277 351.8,277.7 354.1,278.7 356.2,280 358,281.5 360.4,282 362.3,283.2 364.1,284.7 365.5,286.8 367.3,288.6 369.5,290 371.2,291.9 372,294.2 372.9,296.9 372.9,299.9 374.2,302.6 375.9,304.1 377.3,305.9 378.8,307.5 380.4,309 382.1,310.5 384.6,309.5 387.4,309.8 390,309 393.2,308.6 396.3,307.4 396.9,304.9 397.4,302.4 398.2,300 400.6,299.9 402.9,299.2 405.4,300.3 408.1,300.8 410.8,300.8 412.6,302.1 413.7,304.2 415.5,305.5 418.1,305.2 420.8,305.5 423.4,304.7 425,306.9 427.4,308.2 429,310.4 431.3,311.8 433.5,313 436.2,313 438.4,314.1 440.7,315 440.2,317.6 441,320.3 440.7,322.9 442.4,325.2 443.9,327.6 442.9,330.7 442.3,333.9 444.7,333.7 447.1,334.2 449.4,333.5 451.8,333.9 454.2,333.2 456.5,332.4 458.7,331 461.2,330.7 461.5,328.4 461.2,326 460.8,323.5 459.7,321.3 460.1,318.5 459.7,315.8 462.9,315.8 466,316.5 468.3,316.9 470.8,316.9 473,318 475.4,318.1 477.7,319.8 480.2,321.3 480,323.6 481.3,325.6 481.4,327.9 481.9,330 481.8,332.3 481.2,334.5 481.6,336.7 482.2,339 481.5,341.2 481.8,343.4 484.1,345.7"/>
<polyline points="396.3,307.4 396.6,310 396.3,312.6 396.3,315.2 395.7,317.8 395.7,320.6 394.7,323.1 392.3,324.7 390,326.3 389.1,328.6 389.1,331 388.8,333.3 388.4,335.7 386.3,336.4 384.5,337.7 382.6,338.9 380.3,339.3 378.7,341 376.3,341.2 374.4,342.2 372.6,343.6 373.6,345.8 374.7,347.9 375.8,350 377.1,352.2 377.7,354.6 377.8,357.2 378.9,359.4 377.1,361.3 375.6,363.5 374.2,365.7 372,366.9 369.4,367 366.9,367.5 364.7,368.9 362.2,368.7 359.8,369.1 357.4,369.6 354.9,369.9 352.5,370 350,372.5 348.9,374.5 347.6,376.4 345.3,377.5 344.4,379.7 343,381.5 341.4,383.2 340,385 340.5,387.3 341.6,389.2 342.8,391.1 343.7,393.2 345,395 346.5,396.6 348,398.3 349.4,399.9 351.1,401.4 353.2,402.4 354.4,404.3 355.9,406 357.5,407.5 356.1,409.3 354.6,411 353.5,412.9 352.5,415 351,416.6 349.4,418.1 347.6,419.4 346,421 344.8,422.9 343.2,424.5 341.5,425.8 340,427.5"/>
<polyline points="283.8,275 282.9,277.2 283.1,279.5 282.3,281.7 282.6,284 281.9,286.2 283.2,288.7 284.6,291.1 285.6,293.8 286.5,296.9 287.5,300 286.2,302 284.2,303.4 282.5,305 283,307.2 283.7,309.3 283.1,311.6 283.3,313.8 284.5,315.9 284.2,318.1 284.7,320.3 285,322.5 282.5,322.2 280,321.6 277.5,321.1 275,321.1 272.5,320.6 270,320 268,321.2 265.7,321.9 263.7,323.2 261.8,324.5 260,326 257.9,327.3 255.5,328.2 253.3,329.4 251.2,330.7 249.5,332.7 247.2,333.8 245,335 246.5,336.8 247.5,339 250,339.2 252.5,339.9 255,339.7 257.5,340 257.4,342.2 257.3,344.4 257,346.6 255.9,348.7 255.4,350.9 255.2,353.1 255.9,355.4 255,357.5 256.1,359.5 257.1,361.5 257.5,363.7 258.7,365.7 259.2,367.9 260,370 260.1,372.5 259.8,375 260,377.5 260,380 260.5,382.5 260,385 260.1,387.3 261.2,389.3 261.3,391.5 262.5,393.5 263.3,395.6 262.9,398 264,400"/>
</g>
<g fill="none" stroke="#0a0ae8" stroke-width="1.15" stroke-linejoin="round" stroke-linecap="round">
<polyline points="34.5,141 36.1,142.5 38,143.4 40,144 41.9,144.9 43.8,145.6 45.5,146.9 47.3,147.9 48.8,149.3 50,151 50.7,153.6 52.3,155.8 52.5,157.9 52.1,159.9 52,162 51.6,163.8 50.8,165.6 51.3,167.6 50.2,169.4 49.5,171.5 47.7,172.9 47,175 45.7,176.7 45.1,178.9 43,180.2 42.4,182.4 40.3,182.3 38.7,183.2 36.8,183.7 35.4,185.3 33.4,185.3 31.5,185.7 30,187 28.2,187.3 26.5,188.3 25,189.5 23.1,189.6 21.2,189.9 19.3,190 17.8,191.3"/>
<polyline points="87.5,219.4 89.1,217.9 91.5,218 93.3,217 94.8,215.3 96.9,214.7 98.8,213.8 100.3,212.5 102.2,211.6 104,210.6 104.9,208.5 106.5,207.3 108.9,207.2 110.2,205.5 111.9,204.4 113.6,203.4 114,201.1 115.8,200.3 117.5,199.3 118.3,197.4 120.5,196.9 121.2,195 123.2,194.3 123.9,191.9 125.4,190.6 127.5,190.1 129.5,189.3 130.6,187.5 132.1,186.3 133.6,185 135.4,184.2 136.6,182.5 138.4,181.7 140.2,181 141.9,180 143.6,179.2 145.1,178.1 146.8,177.3 148.5,176.6 150.4,176.2 150.9,174.3 151.3,172.4 152.2,170.6 153,168.6 155,167.8 156.7,168.8 158.8,168.8 160.7,167.4 162.5,165.9 164.3,167.1 166.2,167.8 167.7,165.5 170,164 171.9,166.9 174,167.2 175.6,165.9 176.6,167.8 178.5,168.8 178.8,170.7 178.1,172.6 177.5,174.4 175.6,174 173.8,174.4 173.1,172.3 171.9,170.6"/>
<polyline points="171,174.4 173.1,175.2 175.2,175.2 177.3,173.6 179.4,174.4 181.6,175 182.8,177.3 185,178 187.5,177.5 189.5,177.5 191.3,177 193.1,176 195.1,176.2 196.9,175.6 198.8,175.2 200.7,174.5 202.5,173.8 204.2,172.6 206.2,172.4 208.1,171.7 210.1,171.6 212.1,171.4 213.8,170 216.2,168.7 217.5,166.2 219.4,165.9 221.2,165.2 223,164.5 225,164.4 226.9,166.2 229.2,165.5 231.6,166.2 230.6,164.5 231.1,162.5 230.7,160.7 230.6,158.8 230.6,156.9 232.4,156.2 233.5,154.6 234.9,153.5 236.2,152.2 238.1,151.5 239.9,150.9 241.8,151.1 243.7,150.5 245.6,150.9 247.6,151.4 249.4,150.3 250,148.2 249.5,145.9 250.4,143.8 251.5,142 251.8,140.1 252.1,138.2 252.2,136.2 254.2,135.9 255.7,134.8 257.4,133.9 258.8,132.5 259.4,130.1 260.6,127.8 259.1,126.1 257.2,125.2 255,125 253.1,124.6 252,122.8 250.3,121.9 248.5,121.2 248.7,119.4 249,117.5 249.2,115.6 249.4,113.8 248.5,111.8 246.6,110.9 245.6,109 243.8,108 242.6,106.5 242.4,104.5 241.5,102.9 240,101.6"/>
<polyline points="127.3,279.4 127.1,277.5 127.9,275.6 127.8,273.7 128.4,271.9 128.5,270 128,268 126.4,266.5 125.6,264.6 126.2,262.3 125,260.6 123.8,259 122.9,257.3 123.3,255 121.6,253.7 121.3,251.7 120,250.2 119.4,248.4 117.8,247 117.5,245 118.3,243.3 119.2,241.6 119.1,239.7 120,238 120.5,236.2 120,234.1 121.2,232.5 123.4,231.7 125,230.2 126.6,229.3 127.8,227.8 129,226.4 131.4,226.6 132.5,225 134.1,223.9 136,223.2 137.7,222.4 139,220.8 140.5,219.2 142,217.7 142.4,215.4 143.8,213.8 146.1,214.3 148.5,213.7 150.8,213.8 152.3,212.2 153.1,210.3 152.7,207.9 153.6,206 155,204.4 156.1,202.8 157.8,202 159.9,200.8 160.9,198.5 162.5,196.9 161.9,194.9 160.7,193.3 160.3,191.3 159.3,189.5 158.8,187.5 160,185.9 161.7,184.8 163.1,183.4 164.4,181.9 166.1,180.8 166.9,179.1 168.3,177.8 169.4,176.3 170,174.4"/>
<polyline points="141.4,267.6 143,266.4 144.8,265.4 146.8,265.1 148.5,263.9 150.2,263 152.3,262.8 154.4,262.8 156.2,261.8 157.8,260.6 159.7,260.7 161.3,259.4 163.3,259.5 165,258.7 166.8,258.1 168.6,257.6 170.5,257.4 172.5,258.2 174.2,257.1 175.7,255.9 176.6,254.4 177.6,252.9 177.8,250.8 179,249.4 180.4,248.2 181.2,246.6 182.2,245 183,243.3 183.6,241.5 183,239.3 184.4,237.8 185.1,236.1 185.4,234.3 186,232.5 185.9,230.5 186.9,228.7 186.7,226.7 188.6,225.2 188.3,223.1 190.4,222.7 192.1,221.3 193.8,220 196.1,220 197.7,218.4 199.3,217.5 201.1,216.9 202.7,215.8 203.9,214.2 205.4,213.1 207.1,212.3 208.5,211 209.8,209.6 211.7,209 212.6,207.1 214.5,205.8 214.6,203.3 216.4,202 216.3,200 217.8,198.6 217.8,196.6 218.8,195 218.5,193.2 218,191.4 217.4,189.7 218.2,187.7 216.5,186.2 216.5,184.3 215.8,182.6 216.1,180.7 215.2,179 214.9,177.2 215.2,175.3 214.2,173.6 214.2,171.8 213.75,170"/>
<polyline points="174.2,257.1 175.7,258.3 177.1,259.4 178.6,260.5 180.1,261.7 181.8,262.4 183.6,263 184.9,264.6 187.4,264.3 188.6,265.9 189.9,267.6 191.8,268.2 193.3,269.6 195.3,270 194.9,272 193.3,273.4 192.7,275.2 191.2,276.6 190.2,278.3 190,280.5 188.3,281.7"/>
<polyline points="187,230.6 188.8,229.7 190.2,228.5 191.3,226.8 192.5,225.3 193.7,223.7 195.8,223.3 197.1,221.9 198.8,221 200,219.4"/>
<polyline points="221.1,274.7 219.7,273.3 218.3,271.9 217.8,269.8 215.9,268.9 215.3,266.8 214.1,265.3 213.9,263.4 213.3,261.6 214.1,259.7 213.3,257.9 214.1,256 215.6,254.5 216.7,252.7 218.3,251.3 220.2,250.4 222.2,249.5 223.4,247.7 224.4,245.9 226,244.7 227.9,243.9 229.8,243 230.8,241.2 232.1,239.7 234.2,239.1 235.1,237.2 235.7,235.3 237.9,234.7 238.3,232.6 239.3,231 240.5,229.5 241.9,228.2 243.7,227.3 244.5,225.5 245.1,223.7 246.7,222.6 247.9,221.1 248.6,219.4 249.9,218 250.3,216.1 251.3,214.6 252.6,213.2 254.3,212.2 255,210.4 256.2,209 256.8,207.1 258.1,205.6 258.8,203.7 259.4,201.8 261.1,200.5 261.8,198.7 262,196.6 263.3,195 264.4,193.4 265.2,191.7 266.7,190.3 267.4,188.5 267.7,186.5 269,185 270.5,183.7 270,181.4 271.4,180 270.5,178.3 270.3,176.4 268.5,175.1 268.3,173.2 266.8,171.8 267,169.6 266,168 266,166.1 265.3,164.3 265.4,162.3 264.4,160.6"/>
<polyline points="249.4,151.2 251.3,151.9 252.2,154 254.6,153.9 255.6,155.8 257.8,156 259.2,157.3 260.6,158.8 262.2,160.2 264.5,159.5 266.2,160.6 268.2,159.9 270,158.7 271.8,157.7 273.7,156.9 275.4,155.5 277.5,155 279.2,153.8 279.5,151.4 280.9,150 281.9,148.2 283.4,146.9 285,145.6 286.4,144.4 288.4,143.9 289.4,142.1 290.6,140.6 292.5,140 294.5,139.4 296.6,140.4 298.5,138.6 300.6,139.1 302.6,138.3 304.3,137 306.3,136.5 308.1,135.3 310,135.3 311.8,136.3 313.8,136.2 315.6,136.8 317.4,137.6 319.4,137.2 321.3,136.6 322.9,135.1 324.7,134.2 327.2,134.9 328.8,133.4 330.6,132.2 332.2,130.6 334.8,130.6 336.2,128.8 338.2,127.9 340.2,127.2 342.2,126.5 343.6,124.6 345.6,124 347.5,124.3 349.2,125.6 351.4,124.9 353.1,126 354.8,127.3 357.2,127.2 358.6,129.1 360.6,129.7"/>
<polyline points="284.7,146.6 286.9,147.5 289.2,148.3 291.2,149.4 293.1,148.8 295,150 296.9,148.6 298.8,149.4 300.6,150 302.3,151.3 304.4,151.2 306,152.8 306.2,155 307,157 308.1,158.8 310,159.8 310.8,161.8 311.9,163.5 313.8,163.5 315.6,162.8 317.6,162.9 319.3,161.7 321.2,161.5 323.1,161.6 324.5,160.3 326.4,160.1 328.4,160.1 329.8,158.8 331.6,158.4 333,157 334.9,156.8 336.2,155.1 338.1,155 338.2,153 339.3,151.3 339.9,149.5 340,147.5 341.8,146 343.8,144.7 345.8,144.5 347.6,145.3 349.5,145.6 351.2,146.6 353,145.8 355.1,146.2 356.7,144.7 358.9,145.3 360.8,144.9 362.5,143.8 364.2,142.6 366.2,142.8 368.1,142.6 369.9,141.5 371.9,141.9 373.8,141.9 375.6,142.9 377.6,141.7 379.4,142.7 381.3,142 383.1,142.8 384.7,144.1 386.1,145.6 388.5,145.8 390.4,146.7 391.6,148.5"/>
<polyline points="266.2,160.6 266.5,162.5 267.1,164.3 267.2,166.3 268.2,168 268.1,170 269.7,171.7 271.6,173 273.8,173.8 275.7,174.9 278.2,175.1 280,176.6 281.9,177 283.8,176.9 285.7,177.1 287.4,178.6 289.2,179 291.2,178.5 293.4,178.5 294.8,180.4 296.8,180.7 298.8,181.2 299.9,183 300.6,185 301.4,186.8 301.3,188.8 302.1,190.6 302.5,192.5 301.9,194.2 301.7,196 302.3,198 301,199.6 300.3,201.3 300.1,203.1 300.6,205 299.2,206.6 298.7,208.8 297.5,210.5 296.1,212 293.8,212.9 293.1,215 293.7,216.8 293.8,218.7 293.1,220.7 294.4,222.5 294.2,224.4 294.6,226.2 295.5,228 295,230 293.6,231.5 292,232.8 291.7,235.1 290.4,236.6 288.9,237.9 287.5,239.4 287.4,241.6 285.9,243.1 284.6,244.8 284.1,246.8 283.4,248.7 282.1,250.4 281.9,252.5 280.9,254.3 279,255.2 277.8,256.8 276.2,258 274.6,259 273.7,260.8 271.5,261.1 270.7,263.1 268.8,263.8 267.4,265.4 265.2,265.7 263.4,266.7 262.2,268.5"/>
<polyline points="300.6,183.2 302.5,182.7 304.4,182.5 306.4,182.6 308.1,181.5 310,181.1 311.9,180.8 313.6,179.7 315.6,179.8 317.5,179.4 319.4,179.2 321.3,179.1 323,177.6 324.9,177.6 326.7,176.8 328.9,177.6 330.7,177.1 332.3,175.6 334.5,176.8 336.2,175.6 337.9,176.9 339.9,176.9 341.8,177.4 343.9,177.2 345.9,177.5 347.5,178.9 349.4,179.4 351.3,180.9 352.3,182.8 353.1,185 354.9,184.3 356.7,183.6 358.7,184 360.6,183.7 362.6,184.1 364.4,183.2 366.3,182.6 368.2,183.1 370,183.8 372,184 373.8,184.8 375.8,185 377.8,185.9 379.9,186.6 381.4,188.7 383.7,188.9 385.3,190.5 387.4,191 389.4,191.6 391.5,192.1 393.6,192.8 395.7,193.6 397.6,194.7 399.4,196 401.5,196 402.9,197.8 405,197.8 406.6,199.2 408.7,199.2 410.5,200 410.2,202.3 410.9,204.3 412,206.3 411.6,209 409.7,211 410.7,212.8 410.2,215.1 411.5,216.9 412,218.9"/>
<polyline points="358.8,250 360.5,249 362.3,248.4 364.1,247.5 365.4,245.8 367,244.6 369,244.3 370.7,243.2 372.6,242.6 374.5,242 375.9,240.8 377.4,239.6 379,238.4 380.7,237.5 382.1,236.2 383.7,235 385.7,234.8 387.3,233.7 389.5,234.2 390.8,232.2 393.1,232.7 394.7,231.5 395.8,229.7 398.1,229.2 399.3,227.5 400.9,226.3 402.6,225.2 404.9,225.2 406.7,223.3 409,223.6 411.1,224.7 411.6,227.3 413.6,228.4 415.5,228.1 417.3,227.1 419.4,228.3 421.3,227.9 423.1,226.8 424.3,225 426.2,224.2 427.5,222.5 429.2,221.5 431,220.5 432.6,217.3"/>
<polyline points="424.4,250 427.8,250 428.7,247.9 430.5,246.5 431.7,244.6 432.6,242.6 433.7,240.9 433.1,238.8 433.7,236.9 434.1,235 434.7,233.2 435.7,231.5 435.7,229.4 434.3,227.7 434.6,225.6 434.1,223.6 433.1,221.6 432.8,219.5 432.6,217.3"/>
<polyline points="221.2,324.7 223.1,323.5 225.4,323.8 227.4,323.1 229.6,323 231.4,321.7 233,320.7 234.6,319.9 236.6,320 238.3,319.2 239.8,318 241.6,317.6 243.3,316.6 244.5,314.9 246.5,314.1 247.7,312.5 248.8,310.7 250.4,309.6 252.7,309.2 253.8,307.4 255.2,306.2 256.6,305.1 258.7,304.8 259.9,303.4 261.9,304 264.1,303.6 265.9,304.7 267.9,305.3 270,305.4 271.4,304.1 273.4,304 274.6,302.4 276.4,301.9 278.2,301.3 279.5,299.7 281.3,298.9 283.2,298.3 285.4,298 286.7,296.1 289,295.9 290.4,294.2 292.4,294.5 294.4,295.2 296.3,296.1 298.4,296.2 300.5,296.3 302.5,295.4 304.6,296 306.6,295.9 308.6,294.9 310.7,295.2 312.5,293.8 315,294.3 316.8,293 318.8,292.2 320.6,290.7 322.9,290.2 325.1,290 327.3,289.4 329.5,289.7 331.5,289.9 333.3,289.1 335,288.1 337.1,289 338.9,288.1 341.5,288.2 343.7,289.7 345.4,288.4 347.1,287.1 349.5,287.2 350.9,285.4 353.1,285 355.1,284.2 356.8,282.8 359,282.6 361,281.8 362.9,281.4 364.6,280.4 366.4,279.5 368.2,278.8 370,278.1 371.8,277.5 373.8,277.3 375.5,276 377.5,276.2 379.4,275.7 381.1,274.9 383.3,275.5 385,274.4 387.4,273 388.8,270.6 390.3,269.2 392.3,268.6 394.5,268.7 396.3,267.8 398.1,266.9 399.3,265.4 401.5,265.6 403.3,265.2 404.5,263.6 406.1,262.6 407.8,262.2 409.4,261.2 411.7,260.6 412.9,258.4 415,257.5 416.8,256.5 418.6,255.7 420.6,255.6 422,253.9 423.1,251.8 424.4,250"/>
<polyline points="322.9,290.2 322.5,292.4 324.5,294.1 323.7,296.3 325.1,298.2 324.9,300.3 323.8,302.2 325,304.5 323.3,306.3 323.3,308.4 322.6,310.4 322.9,312.5 322.7,314.5 324.5,315.8 324.9,317.6 324.9,319.6 326.2,321.1 326.8,322.8 327,324.7 327.7,326.4 326.9,328.4 327.1,330.2 327.5,331.9 328.7,333.6 327.8,335.5 328.7,337.2 329,339 328.4,340.8 327,342 326,343.6 324.9,345 323.2,346.7 320.8,347 318.8,348.1 318.6,350.4 317.9,352.7 317.6,355"/>
<polyline points="327.5,341 329.8,342 331.8,343.5 334,344.7 336.1,346 338.3,347.2 340.1,349.1 342.5,350 345.3,350.6 347.3,352.7 350.6,352.5 352.7,354.3 355,356 357.3,357.2 359.7,358.2 360.9,361 363.6,361.6 365,364.1 367.5,365 365.2,367 365.6,370.3 362.8,372 361.8,374.6 360.9,377.3 360,380 361.7,382.3 361.1,385 361.2,387.6 362.5,389.9 362.5,392.5 365,393.6 367,395.4 369.1,397 370.4,399.8 373.2,400.5 375,402.5 377.6,403.6 379.8,405.4 382,407.4 385.2,407.2 387.5,409"/>
<polyline points="420.6,255.6 421.5,258.4 422.5,261.2 422.4,263.9 422.6,266.5 424.4,268.8 422.9,271 420.1,272 418.8,274.4 418.9,277 419.6,279.5 420.6,281.9 421.1,284.9 420.9,287.7 419.5,290.3 418.8,293.1 416.9,295.3 416.8,298.4 415,300.6 414,303.4 413.1,306.2 412.3,309 409.8,310.9 409.4,313.8 405.9,314.7 403.8,317.5 401.1,319.6 398.1,321.2 395.5,323.5 395.3,326.9 398.2,327.9 399.2,331.3 401.9,332.5 404,334.6 407.3,334.2 409.4,336.2 410.3,338.7 412.1,340.7 412.6,343.5 415,345 417.6,345.8 419.2,347.9 420.9,350.1 423.4,351 426,351.7 428.5,352.7 430,355 430.7,358.1 433.4,360 435,362.5 432.1,362.4 430.6,365.5 427.5,365.1 425.1,366.2 423,368 420.3,368.9 419.8,372.4 417.2,373.5 415,375 415.5,377.8 413.1,379.8 413.5,382.6 412.5,385 410.2,387 410.3,390.1 408.1,392.2 407.5,395 405.4,397.1 405.6,400.3 403.6,402.4 402.5,405"/>
<polyline points="435,362.5 437.4,361.4 440,362.4 442.5,361.3 444.9,360.7 447.5,361.2 450,361 452.3,360.1 454.6,359.2 456.8,358.3 458.9,357 461.2,356.1 463.9,356.3 466,355 468.2,353.5 470.9,353.3 473.4,352.5 475.8,351.6 478.3,350.7 479.9,347.9 482.5,347.5"/>
<polyline points="324.4,417.6 326.5,419.2 328.7,420.6 331.4,421.1 333.7,422.3 336.1,423.5 338.6,424.4 340.8,425.8 342.2,429 345.4,430.4 347.9,430.8 350.4,431.3 352.7,432.5 354.8,434 358,433.7 361.1,434.3 364.2,435.1 366.3,433.8 368.5,432.6 371.2,432.8 373.1,434.4 374.7,436.4 375.9,438.6 376.9,441.6 378.2,444.5 379.7,446.6 380.9,448.8 380.6,451.5 382.4,448.6 385.3,446.8 390,446.8 391.4,449.2 393.3,451.4 394.6,453.9 397.7,454.9 400.8,455.4 404,455 406.9,455.1 410,454.6 412.7,456.5 415.7,456.2 417.8,457.5 420.5,457.3 422.6,458.7 425.2,458.5 427.4,459.7 429.1,462.3 432.1,463.2 434.9,462.5 437.2,460.9 439.8,459.9 441.5,457.4 444.4,456.4 447.4,456.9 450.3,457.1 453.2,456.2 455.5,458.6"/>
</g>
</g>
<polygon points="10.8,153.8 12.4,152.6 14.2,151.9 15.8,150.9 17.5,149.9 19.2,149.1 21.1,148.6 22.9,147.8 24.6,146.9 26.1,145.7 27.7,144.6 29.3,143.5 31.4,143.3 33,142.3 34.5,141 36.2,140.2 37.8,139.4 38.9,137.7 40.9,137.3 42.5,136.6 43.6,134.7 45.5,134.3 46.9,133.1 48.6,132.3 49.9,130.9 51.7,130.5 53,129.1 54.8,128.4 56.5,127.7 58.1,126.7 59.5,125.6 61,124.5 62.3,123.1 64.1,122.7 65.6,121.7 66.9,120.2 68.7,119.7 70.1,118.5 71.9,118 73.3,116.8 74.8,115.8 76.1,114.5 77.8,113.8 79.2,112.6 81,112 82.2,110.6 84,110 85.6,108.9 87.6,108.9 89.3,107.9 90.9,106.9 92.7,106.5 94.5,105.7 96,104.5 95.8,102.7 96.5,100.8 96,99 98.2,98.8 100,97.5 101.8,98.4 103,100 104,103 106,102.7 107.5,101.3 109.7,101.6 111.4,100.6 113.2,99.6 115,99 116.8,98.1 118.9,98.2 120.8,97.7 122.5,96.8 122.7,98.6 123.4,100.3 123.5,102.2 124,104 123.3,106.5 122.5,109 123.1,111.3 123.6,113.6 124,116 125.8,117.5 127.2,119.5 129,121 130.9,122.1 133.1,122.9 135,124 137,123.7 139.1,123.3 141.1,123 143.1,122.5 142.4,120.5 143,118.4 142.1,116.5 142.1,114.4 144,113.7 146,113.2 147.7,112.1 149.3,110.8 151.3,110.3 153,110.9 154.5,112.1 156.1,112.9 157.6,114 159.4,114.4 161.3,115.3 163.6,114.9 165.5,115.7 167.5,116.4 169.3,116.9 170.8,117.9 172.7,118.1 174.4,119 175.8,120.2 177.7,120.5 178.4,122.3 178.6,124.1 178.5,126.1 179.2,127.8 179.7,129.6 181.7,129.5 183.7,128.7 185.9,129.5 187.8,128.3 189.9,128.6 191.3,130.5 191.9,132.7 194.2,131.5 196,129.6 198.1,129.2 200,128.3 202,127.7 204.1,127.6 206,127.2 207.6,126.2 209.3,125.4 211.1,124.8 212.8,124 214.7,123.5 216.3,122.5 217.7,121.1 219,119.6 221.2,119.1 222.1,117.1 223.7,115.9 225.4,114.9 226.9,113.5 228.5,112.4 229.6,110.9 231.3,110.1 232.6,108.8 233.7,107.4 234.9,106 235.8,104.4 237.1,103.1 238.7,102.2 237.8,100.6 237.7,98.6 236.6,97.1 238.4,96.5 240.2,97 242,96.3 243.8,96.2 245.6,96.6 247.4,96.6 249.3,96.8 251,96.2 252.8,96.1 253.9,99.1 256.4,98.3 259,98.1 260.2,96.7 261.8,95.6 262.8,93.9 264,92.5 262.6,91.1 261.2,89.7 260.4,87.7 259.1,86.2 257.5,85 258.6,82.6 259,80 260,77.8 261.8,76.9 263.9,76.9 265.6,75.8 267.6,75.4 269.3,74.3 271.2,74 273.4,74.3 275.5,73.6 277.6,74.2 279.7,73.5 279.6,75.3 279.6,77.2 279.5,79 279.6,80.8 279.2,82.6 278.8,84.4 280.6,84.1 282.5,83.4 284.4,83.4 286.3,83.6 288.2,83.9 290,84.3 291.9,84.5 293.7,85.3 295.6,85.3 296.2,82.8 297.5,80.6 298.9,79.2 300.7,78.2 302.2,76.9 303.6,75.5 305,74 306.2,71.7 307.5,69.5 310.3,68.6 312.7,69.1 314.6,70.6 316.9,71.4 318.2,72.9 319.7,74.2 319.6,76.1 318.8,77.9 318.8,79.8 317.8,81.6 317.8,83.6 318.9,85.1 319.7,86.8 322,87.1 324.4,86.8 326.2,85.4 327.3,87.2 328.1,89.2 330,92 331.9,90.1 333.5,88 335.6,86.4 336.7,84.6 338.3,83.4 340.1,82.4 341.2,80.7 341.7,78.5 342.1,76.3 343.1,74.2 345.9,72.3 347.5,73.4 348.8,74.8 350.6,75.6 351.3,77.7 352,79.8 353.1,81.8 354.4,83.6 354,85.5 352.6,86.8 352.1,88.6 351.8,90.5 350.6,92 351.7,93.9 353.4,95.3 354.9,96.9 355.9,98.8 357.5,100.3 357.8,102.2 358.5,104 359,105.9 359.4,107.8 361.3,107.8 363.2,107.8 365,108.7 366.9,107.9 368.7,108.9 370.6,108.8 371.4,110.7 372.5,112.5 373.5,114.4 373.2,116.3 374.1,118.1 374,120 376,119.8 378,119.2 380,118.7 382,118.5 384.1,118.2 386,117.5 387,117 388.9,117.7 390.8,118.3 392.8,118.7 394.5,119.7 396.5,120.2 398,118.8 399.4,117.3 400.5,115.5 402.4,114.3 403.9,112.5 406,111.5 408,112.1 410,112.4 411,114.3 413.2,115.2 414.2,117.1 415.5,118.7 415.9,120.5 415.9,122.4 416,124.3 416.3,126.2 417,128 418.5,129.3 420.6,129.3 422.1,130.6 424,131 425.6,132.1 427.3,132.9 428.8,134.2 429.7,136 431.7,136.1 433.6,135.2 435.6,136 437.6,135.6 439.5,134.9 441.5,135.2 442.9,136.7 444.7,137.6 444.9,139.5 446.1,141.1 446.2,143 447.9,141.7 450,141.1 451.8,140 453.4,141.3 454.9,142.7 456.5,144 455.2,145.9 454,147.9 452.7,149.3 451.8,151 452.8,152.7 454,154.2 452.4,155.1 450.7,155.9 449.4,157.3 448.1,159.5 447.8,162 446.7,163.7 446,165.6 444.6,167.1 443.9,169 444.6,170.7 444.2,172.6 444.5,174.4 444.7,176.2 443.8,177.9 442.1,179.1 441.2,180.8 440.1,182.4 439,184 441.2,185.4 443,187.3 444,190 442.1,190.6 441,192.4 438.9,192.7 437.5,194 436,195.2 434.8,196.6 434.1,198.6 432.4,199.6 430.8,200.7 430,202.5 429.4,204.3 429.3,206.2 428.9,208.1 429,210 429.6,211.9 431.3,213.1 432,215 433.1,216.6 433.8,219.2 435.5,221.3 435.7,223.5 434.5,225.4 434.7,227.6 436.7,226.6 438.8,226 441,226 443,224.9 444.6,223.3 446.5,222.1 447.8,223.4 449.4,224.4 450.5,226 452.5,225.2 454.7,225.7 456.8,225.2 459.1,225.9 461.5,226 463.5,227 465.8,226.8 467.8,227.6 470,227.9 472,227.1 474.1,226.8 476.2,227.5 478.3,227.9 480.4,228.4 481,230.3 482.3,232 482.8,233.9 484.9,234.5 487.2,234.5 489.4,234.8 491.5,235.5 492.9,237.2 494.5,238.8 496.2,240.2 497.4,242.1 498.8,243.8 500,245.8 500.8,247.8 501.1,249.9 501.9,251.9 502.5,254 504.4,254.6 506.3,254.3 508.2,254.8 510.2,254.4 512.1,254.9 514,255 513,256.8 512,258.6 511.6,260.6 511,262.5 509.2,263.7 507.9,265.5 506.1,266.7 504.4,267.9 502.5,269 502.7,271.4 503.7,273.6 504,276 505.4,277.4 506.7,278.8 508.8,279.3 510,281 512,281.5 514,281.3 516,280.7 518,281.2 520,281 521.8,281.9 523.6,282.6 525.2,283.8 526.2,285.6 526.2,287.8 527.2,289.7 527.4,291.8 528.3,293.7 529.2,295.6 528.7,297.6 528.3,299.5 527.8,301.5 527.4,303.5 527.2,305.5 528.2,307.4 529.2,309.4 530.9,310.7 532.3,312.3 533.9,313.7 535.1,315.4 533.6,317.1 533.1,319.3 531.1,319.2 529.2,319 527.2,319 525.2,319.4 523.2,319.3 521.7,320.6 520.6,322.3 520,324.2 518.2,325.4 517.3,327.2 515.6,328.9 513.5,329.9 511.4,331.1 509.6,332.3 507.8,333.5 506.3,335 505.3,337.1 503.5,338.7 502.7,340.9 503.8,342.9 504.6,344.9 504.8,347.2 505.7,349.2 503.8,350.6 501.5,351 499.2,352.8 497,354 495.6,356.3 496.5,359 498,360.4 500.5,359.5 501,357.5 499.8,355.1 498,352.8 496,352.7 494.1,351.9 492.1,352.2 490.6,353.3 489.4,354.7 488.5,356.3 486.3,354.9 483.8,353.9 483.2,352.1 482.6,350.4 480.9,351 479,350.6 477.4,351.8 475.5,351.6 475.8,353.5 474.7,355.3 474.6,357.2 475,359.2 474.3,361 472.8,362.2 470.9,362.4 469.4,363.2 467.5,363.5 466,364.6 465.3,366.3 464.7,368 463.8,369.5 462.7,371 462.5,372.9 461.4,375.3 460.1,377.6 460.2,379.6 461.3,381.2 459.5,382.3 458.1,383.9 457.2,386 455.4,387.1 455.7,389 456.7,390.6 456.8,392.5 457.8,394.2 456.2,395.6 454.2,396.4 452.8,398.1 451,399.1 449,400 448.3,401.9 448.5,404 448.6,406.1 447.9,408 447.5,410 447,412.7 445.5,415 445.8,416.9 446.9,418.4 447.8,420 446.5,422.3 445.5,424.7 446,426.9 446.9,429 447.3,431.2 447.8,433.4 450.2,434.1 452.6,435 453.6,436.8 454.6,438.7 455.7,440.5 456.1,442.5 457.6,443.9 457.9,445.9 458.9,447.6 460.6,448.5 462.6,448.8 464,450.5 466,450.8 465.4,453.1 465.5,455.5 465.2,457.9 466.1,459.8 468.1,460.8 469.1,462.6 468.4,464.7 467.6,466.8 466.8,468.9 465.8,470.8 465.1,472.8 464.2,474.7 463.6,476.8 463.6,479.2 464.4,481.5 462.6,482.8 461.5,484.9 459.7,486.2 457.5,486.3 455.3,486 453.1,486.1 451,485.5 449.1,486.3 447.1,486.9 445.1,487.4 443.1,487.8 441.3,487.4 439.7,486.3 437.8,486.1 436,485.5 434.2,486.1 432.5,486.9 431.5,488.9 430,490.6 429.1,493.1 428.1,495.6 427.1,493.9 425.6,492.5 423.5,491.5 421.2,491.2 418.8,492.5 417,493.7 414.8,494.3 413.1,495.6 410.6,496.2 408.8,498.1 407.5,496.2 405.6,493.8 408.1,492.5 408.1,489.4 406.5,488.2 405,486.9 406.2,483.8 404.4,483.1 404.2,480.9 403,479 402.5,476.9 400.8,474.9 398.8,473.1 396.8,472 394.6,471.5 392.6,470.5 390.5,471.1 388.4,471.6 386.3,472 386.1,469.6 386.3,467.3 387.9,465.7 386.8,464.1 385.2,462.8 384.5,460.9 383.2,459.4 381.9,457.5 380,456.3 377.5,456 375.8,455.2 373.9,455.4 372.2,454.8 370.4,454.4 368.6,454.1 366.7,454.6 365,454 363.6,452.5 361.7,451.7 360.8,449.8 358.8,449 357.5,447.5 355.7,446.9 354.7,445.2 352.9,444.7 351.3,443.7 350.3,442.1 348.8,441.1 347.1,440.3 345.6,439.4 344.3,438.1 342.5,437.5 340.6,436.4 338.6,435.9 336.5,435.5 334.6,434.5 332.5,434 330.5,434.6 328.5,434.7 326.5,434.8 324.5,435 322.5,435 323.7,432.6 324,430 324.3,428 324,426 324.5,424 323.8,422 324,420 324.1,418.1 324.6,416.2 324.7,414.3 325.3,412.4 325.3,410.5 325.5,408.6 323.7,407.7 322.5,406 320.7,405.1 319.3,403.7 317.6,402.7 316.9,400.6 316,398.5 314.4,396.9 313.6,394.8 314.8,393 315.2,390.9 316.1,388.9 316.8,387 317.6,385 318.7,383.1 320,381.3 320.5,379.1 321.5,377.1 321.7,375.1 322.5,373.1 323.3,371.3 323.5,369.2 324.4,367 325.9,365.1 327.4,363.3 326.8,361.1 325.5,359.3 323.5,358.9 321.5,358.7 319.6,357.7 317.6,357.3 316.7,358.9 315.3,360.1 314.2,361.5 313.1,363 311.8,364.2 310.7,365.6 309.7,367.2 307.9,368.3 307.1,370.3 305.1,371.1 304.1,372.9 302.4,374 301.5,375.9 299.8,377.1 300.1,378.9 299.3,380.8 299.6,382.6 299.3,384.5 299.7,386.3 300.1,388.2 300.3,390 299.8,391.9 297.8,392.1 295.9,392.6 294,393.3 291.9,393.2 290,393.7 288,393.8 286.2,394.4 284.6,395.2 282.8,395.6 281.1,396.3 279.3,396.9 277.8,398 276.1,398.8 274.4,399.4 272.9,400.5 271,400.9 269.6,402.1 267.8,402.6 266.3,403.7 264.3,403.3 262.4,402.5 260.3,402.2 258.2,402.2 256.3,401.5 254.4,400.7 252.4,400.5 250.4,400.1 248.4,400 246.6,399.1 244.6,398.8 242.6,398.6 240.6,398.9 238.7,399.4 236.7,399.8 234.7,399.9 232.8,399.8 230.8,398.6 228.9,397.5 226.8,396.8 225,395.1 223.9,392.8 224.3,390.9 224.2,388.9 224.9,387 224.9,385 226.9,384 228.8,383 230.7,381.6 232.8,380.4 234.7,379 234.1,377.1 234.3,375.1 234.2,373.1 234.4,371.1 233.7,369.2 232.6,367.3 231.4,365.5 230.8,363.3 228.6,362.4 226.2,362.5 223.9,362.3 225.2,359.9 225.8,357.3 225.5,355.3 226.3,353.4 226,351.4 226.1,349.4 227.2,347.5 226.8,345.5 227.9,344 229.6,343.2 231,342 232.3,340.8 233.7,339.6 233.7,337 234.7,334.7 233.3,333.3 231.7,332.3 230.6,330.5 228.8,329.7 227.4,331.6 226.3,333.7 224.9,335.6 224.8,333.6 224.8,331.6 223.9,329.7 222.1,328 220.9,325.8 218.6,324.9 216.8,323.3 215,321.8 213.5,320.5 213,318.4 211.5,317.1 209.9,315.8 209,314 206.8,314.6 204.7,315.6 202.5,316 200.6,316.1 199.1,317.6 197,317.4 195.3,318 193.6,318.8 191.8,319.5 190,320 188.8,318.6 187,318.1 185.2,317.4 183.7,316.4 182.5,315 180.4,315.5 178.3,315.4 176.2,314.7 174.2,315 172.1,315.4 170,315 169.1,317 168.6,319.1 167.6,321 167,323.1 166,325 164.4,323.6 162.5,322.5 162.1,320.4 160.9,318.6 160.9,316.3 159.6,314.6 159,312.5 159.3,310.6 159.6,308.8 158.9,306.8 159.8,305 159.2,303.1 160.1,301.3 160.2,299.4 160,297.5 159.4,295.7 158.4,294.1 157.5,292.4 156.3,290.9 156,289 154.4,287.8 152.8,286.7 151.1,285.6 149,285.3 147.5,284 145.5,284.7 143.5,284 141.5,284.2 139.5,284.3 137.5,285 138.2,283.1 138.3,281 139,279 137.6,277.5 135.6,277 134,276 132.5,277.2 130.7,277.9 129,278.8 127.5,280 125.4,280.6 123.9,282.3 121.7,282.7 120,284 118.6,282.9 117.1,281.9 115.3,281.3 113.7,280.4 112.5,279 110.9,277.6 110.4,275.5 108.6,274.2 107.5,272.5 107,270.6 106.8,268.8 107,266.8 106.3,265 105.6,263.2 105.2,261.3 105,259.4 105,257.5 104.9,255.4 103.5,253.6 104,251.4 102.8,249.6 102.5,247.5 102.2,245.6 101.2,243.9 100.8,242 100.4,240.1 99.3,238.4 98.6,236.6 98.2,234.8 96.8,233.3 96.1,231.6 96.3,229.5 95.7,227.8 95.2,226 94.4,224.3 93.1,222.8 92.7,221 90.8,220 88.8,219.5 86.8,218.9 84.8,219.5 82.9,220.4 81,221.1 79.1,222 76.9,222 75,222.8 73,223.7 70.8,224 68.9,224.9 67.2,226.4 65,226.8 63.6,228.2 62.6,229.9 61.4,231.4 60,232.9 59.2,234.7 57.6,235.8 56.5,237.3 55.2,238.6 54.1,236.5 53,234.4 51.3,232.7 49.3,232.2 47.4,231.6 45.3,231.7 43.4,230.7 41.7,229 40.7,226.8 39.4,224.8 37.8,223.8 36.5,222.5 35.5,220.9 33.8,219.2 32.8,217 31.6,215 29.6,214.5 27.5,214.5 25.8,213.2 23.7,213 22.5,211.5 21,210.4 19.7,209 18.5,206.8 16.8,205 17.1,203 16.7,201.1 16.8,199.1 16.2,197.2 16.6,195.2 16.3,193.2 15.8,191.3 16.8,189.7 18.2,188.3 19.8,187.2 20.7,185.4 19.8,183.2 19.1,180.9 18.7,178.5 17.4,177.1 16.3,175.6 16,173.6 14.7,172.2 13.8,170.6 13.8,168.7 13.2,166.9 13.2,164.9 12.4,163.1 12.3,161.2 12.2,159.3 11.6,157.5 11,155.7 10.8,153.8" fill="none" stroke="#282828" stroke-width="1.9" stroke-linejoin="round"/>
<ellipse cx="332" cy="81.7" rx="2.9" ry="3.3" fill="#262626"/>
<polygon points="309.4,84.5 314.1,84 318.75,85.9 316.9,87.8 311.25,87.3" fill="#fff" stroke="#262626" stroke-width="1.5" stroke-linejoin="round"/>
<g font-size="14" fill="#000"><rect x="563" y="96" width="26" height="36" fill="#A50026"/><rect x="563" y="132" width="26" height="36" fill="#D73027"/><rect x="563" y="168" width="26" height="36" fill="#F46D43"/><rect x="563" y="204" width="26" height="36" fill="#FDAE61"/><rect x="563" y="240" width="26" height="36" fill="#FEE090"/><rect x="563" y="276" width="26" height="36" fill="#FFFFBF"/><rect x="563" y="312" width="26" height="36" fill="#E0F3F8"/><rect x="563" y="348" width="26" height="36" fill="#ABD9E9"/><rect x="563" y="384" width="26" height="36" fill="#74ADD1"/><rect x="563" y="420" width="26" height="36" fill="#4575B4"/><rect x="563" y="456" width="26" height="36" fill="#313695"/><text x="601.5" y="102.1">16</text><text x="601.5" y="138.1">15.5</text><text x="601.5" y="174.1">15</text><text x="601.5" y="210.1">14.5</text><text x="601.5" y="246.1">14</text><text x="601.5" y="282.1">13.5</text><text x="601.5" y="318.1">13</text><text x="601.5" y="354.1">12.5</text><text x="601.5" y="390.1">12</text><text x="601.5" y="426.1">11.5</text><text x="601.5" y="462.1">11</text><text x="601.5" y="498.1">10.5</text></g>
<text x="617.5" y="74" font-size="15" font-weight="bold" fill="#000">°C</text>
<text x="79.3" y="30.6" font-size="15.6" font-weight="bold" fill="#000" textLength="155.5" lengthAdjust="spacingAndGlyphs">Température moyenne</text>
<text x="78.8" y="51.6" font-size="13.4" fill="#000" textLength="108.8" lengthAdjust="spacingAndGlyphs">moyenne mai 2025</text>
<g fill="#0552eb">
<path d="M7.2,5 L19.7,5 C22.5,8 26,12 27.5,16.5 C29,21 29.2,25 29,28.7 C28.6,33 27,37 24.9,40.9 C23,44 21.2,47 21,50 L21,53.8 L7.2,53.8 Z"/>
<path d="M55.8,7.7 L55.8,53.8 L24.1,53.8 C24.3,50 25,47 27.6,44.2 C29.5,41.5 32,39 35,36.5 C38.5,33.5 40,31 40.5,27 C41,22 41.5,19 43.1,16.5 C45.5,12.5 50,8.5 55.8,7.7 Z"/>
<rect x="7" y="56" width="2.5" height="15"/>
<path d="M13.5,56 H23 C26.6,56 28.6,58.3 28.6,61.2 C28.6,63.6 27.2,65.4 25,66 L28.9,71 H26 L22.3,66.3 H16 V71 H13.5 Z M16,58.3 V64 H22.8 C25,64 26.1,62.9 26.1,61.2 C26.1,59.4 25,58.3 22.8,58.3 Z" fill-rule="evenodd"/>
<path d="M34,56 H37.3 L44.75,67.8 L52.2,56 H55.5 V71 H53 V59.5 L45.9,71 H43.6 L36.5,59.5 V71 H34 Z"/>
</g>
</svg>
</body></html>
